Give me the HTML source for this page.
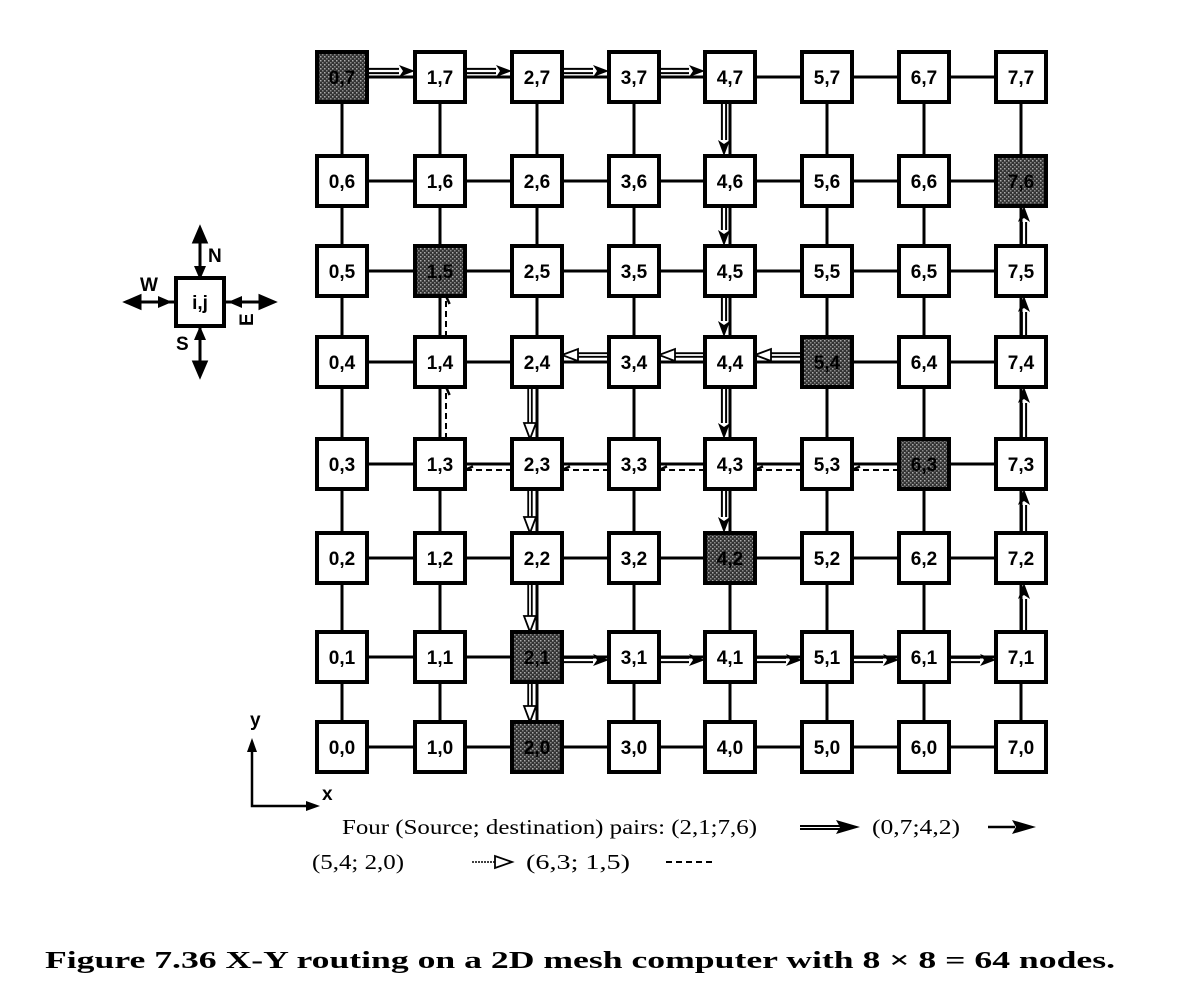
<!DOCTYPE html>
<html><head><meta charset="utf-8"><style>
html,body{margin:0;padding:0;background:#fff;}
svg{display:block;}
.lbl{font-family:"Liberation Sans",sans-serif;font-size:19px;fill:#000;}
.ser{font-family:"Liberation Serif",serif;font-size:21px;fill:#000;}
</style></head><body>
<svg id="fig" width="1200" height="991" viewBox="0 0 1200 991" xmlns="http://www.w3.org/2000/svg">
<defs>
<pattern id="dots" width="4" height="4" patternUnits="userSpaceOnUse"><rect width="4" height="4" fill="#333"/><rect x="0" y="0" width="1.5" height="1.5" fill="#aaa"/><rect x="2" y="2" width="1.5" height="1.5" fill="#888"/></pattern>
</defs>
<g id="links"></g>
<g id="routes"></g>
<g id="nodes"></g>
<g stroke="#000" stroke-width="3" fill="none">
  <rect x="176" y="278" width="48" height="48" stroke-width="4" fill="#fff"/>
  <line x1="200" y1="232" x2="200" y2="276"/><line x1="200" y1="328" x2="200" y2="372"/>
  <line x1="128" y1="302" x2="174" y2="302"/><line x1="226" y1="302" x2="272" y2="302"/>
  <polygon points="200,228 194,242 206,242" fill="#000"/><polygon points="200,280 194,266 206,266" fill="#000" stroke="none"/>
  <polygon points="200,376 194,362 206,362" fill="#000"/><polygon points="200,326 194,340 206,340" fill="#000" stroke="none"/>
  <polygon points="126,302 140,296 140,308" fill="#000"/><polygon points="172,302 158,296 158,308" fill="#000" stroke="none"/>
  <polygon points="274,302 260,296 260,308" fill="#000"/><polygon points="228,302 242,296 242,308" fill="#000" stroke="none"/>
</g>
<text class="lbl" x="200" y="309" text-anchor="middle" font-size="17" font-weight="bold">i,j</text>
<text class="lbl" x="208" y="262" font-weight="bold" font-size="17">N</text>
<text class="lbl" x="140" y="291" font-weight="bold" font-size="17">W</text>
<text class="lbl" x="240" y="327" font-weight="bold" font-size="17" transform="rotate(-90 246 320)">E</text>
<text class="lbl" x="176" y="350" font-weight="bold" font-size="17">S</text>
<g stroke="#000" stroke-width="2.5" fill="#000">
  <polyline points="252,745 252,806 312,806" fill="none"/>
  <polygon points="252,738 247,752 257,752" stroke="none"/>
  <polygon points="320,806 306,801 306,811" stroke="none"/>
</g>
<text class="lbl" x="250" y="726" font-size="17" font-weight="bold">y</text>
<text class="lbl" x="322" y="800" font-size="17" font-weight="bold">x</text>
<g>
<text class="ser" x="342" y="834" textLength="415" lengthAdjust="spacingAndGlyphs">Four (Source; destination) pairs: (2,1;7,6)</text>
<g stroke="#000" stroke-width="2"><line x1="800" y1="826" x2="840" y2="826"/><line x1="800" y1="829" x2="840" y2="829"/></g>
<polygon points="860,827 836,820 840,827 836,834" fill="#000"/>
<text class="ser" x="872" y="834" textLength="88" lengthAdjust="spacingAndGlyphs">(0,7;4,2)</text>
<line x1="988" y1="827" x2="1015" y2="827" stroke="#000" stroke-width="2.5"/>
<polygon points="1036,827 1012,820 1016,827 1012,834" fill="#000"/>
<text class="ser" x="312" y="869" textLength="92" lengthAdjust="spacingAndGlyphs">(5,4; 2,0)</text>
<line x1="472" y1="862" x2="495" y2="862" stroke="#000" stroke-width="1.5" stroke-dasharray="2 1"/>
<polygon points="512,862 495,856 495,868" fill="#fff" stroke="#000" stroke-width="1.8"/>
<text class="ser" x="526" y="869" textLength="104" lengthAdjust="spacingAndGlyphs">(6,3; 1,5)</text>
<line x1="666" y1="862" x2="712" y2="862" stroke="#000" stroke-width="2" stroke-dasharray="6 4"/>
</g>
<text x="45" y="968" font-family="Liberation Serif, serif" font-weight="bold" font-size="24" textLength="1070" lengthAdjust="spacingAndGlyphs">Figure 7.36 X-Y routing on a 2D mesh computer with 8 × 8 = 64 nodes.</text>
</svg>
<script>
const colX = [342, 440, 537, 634, 730, 827, 924, 1021];
const rowY = [747, 657, 558, 464, 362, 271, 181, 77];
const shaded = [[0,7],[1,5],[5,4],[6,3],[4,2],[2,1],[2,0],[7,6]];
const route1 = [[2,1],[7,1],[7,6]];
const route2 = [[0,7],[4,7],[4,2]];
const route3 = [[5,4],[2,4],[2,0]];
const route4 = [[6,3],[1,3],[1,5]];
const NS="http://www.w3.org/2000/svg";
const H=25;
function X(i){return colX[i];}
function Y(j){return rowY[j];}
function mk(tag,attrs,parent){const e=document.createElementNS(NS,tag);for(const k in attrs)e.setAttribute(k,attrs[k]);parent.appendChild(e);return e;}
const links=document.getElementById('links'),nodes=document.getElementById('nodes'),routes=document.getElementById('routes');
for(let i=0;i<8;i++)for(let j=0;j<8;j++){
  if(i<7){const l=mk('line',{x1:X(i),y1:Y(j),x2:X(i+1),y2:Y(j),stroke:'#000','stroke-width':3},links);
    
    }
  if(j<7){const l=mk('line',{x1:X(i),y1:Y(j),x2:X(i),y2:Y(j+1),stroke:'#000','stroke-width':3},links);
    
    }
}
function isShaded(i,j){return shaded.some(s=>s[0]===i&&s[1]===j);}
for(let i=0;i<8;i++)for(let j=0;j<8;j++){
  const g=mk('g',{},nodes);
  
  
  const sh=isShaded(i,j);
  mk('rect',{x:X(i)-H,y:Y(j)-H,width:2*H,height:2*H,fill:sh?'url(#dots)':'#fff',stroke:'#000','stroke-width':4},g);
  const t=mk('text',{x:X(i),y:Y(j)+7,'text-anchor':'middle',class:'lbl','font-weight':'bold',fill:sh?'#555':'#000'},g);
  t.textContent=i+','+j;
}
function seg(a,b,style){
  const [i1,j1]=a,[i2,j2]=b;
  const steps=Math.max(Math.abs(i2-i1),Math.abs(j2-j1));
  const di=Math.sign(i2-i1),dj=Math.sign(j2-j1);
  for(let s=0;s<steps;s++){
    const ci=i1+di*s,cj=j1+dj*s;
    let x1=X(ci),y1=Y(cj),x2=X(ci+di),y2=Y(cj+dj);
    const g=mk('g',{},routes);
    
    
    const horiz=di!==0;
    if(horiz){const sx=Math.sign(x2-x1);x1+=sx*H;x2-=sx*H;}else{const sy=Math.sign(y2-y1);y1+=sy*H;y2-=sy*H;}
    const off=style.off;
    if(horiz){y1+=off;y2+=off;}else{x1+=off;x2+=off;}
    const ux=Math.sign(x2-x1),uy=Math.sign(y2-y1);
    const tipx=x2,tipy=y2;
    const bx=tipx-ux*16,by=tipy-uy*16;
    const px=-uy*6,py=ux*6;
    if(style.kind==='double'){
      mk('line',{x1:x1+px*0.35,y1:y1+py*0.35,x2:bx+px*0.35,y2:by+py*0.35,stroke:'#000','stroke-width':2},g);
      mk('line',{x1:x1-px*0.35,y1:y1-py*0.35,x2:bx-px*0.35,y2:by-py*0.35,stroke:'#000','stroke-width':2},g);
      mk('polygon',{points:`${tipx},${tipy} ${bx+px},${by+py} ${bx+ux*4},${by+uy*4} ${bx-px},${by-py}`,fill:'#000'},g);
    }else if(style.kind==='open'){
      mk('line',{x1:x1+px*0.3,y1:y1+py*0.3,x2:bx+px*0.3,y2:by+py*0.3,stroke:'#000','stroke-width':1.8},g);
      mk('line',{x1:x1-px*0.3,y1:y1-py*0.3,x2:bx-px*0.3,y2:by-py*0.3,stroke:'#000','stroke-width':1.8},g);
      mk('polygon',{points:`${tipx},${tipy} ${bx+px},${by+py} ${bx-px},${by-py}`,fill:'#fff',stroke:'#000','stroke-width':1.8},g);
    }else{
      mk('line',{x1:x1,y1:y1,x2:tipx,y2:tipy,stroke:'#000','stroke-width':2,'stroke-dasharray':'6 4'},g);
      mk('line',{x1:tipx-ux*8+px*0.6,y1:tipy-uy*8+py*0.6,x2:tipx,y2:tipy,stroke:'#000','stroke-width':2.5},g);
    }
  }
}
function drawRoute(r,style){for(let k=0;k<r.length-1;k++)seg(r[k],r[k+1],style);}
drawRoute(route1,{kind:'double',off:3});
drawRoute(route2,{kind:'double',off:-6});
drawRoute(route3,{kind:'open',off:-7});
drawRoute(route4,{kind:'dash',off:6});
</script>
</body></html>
